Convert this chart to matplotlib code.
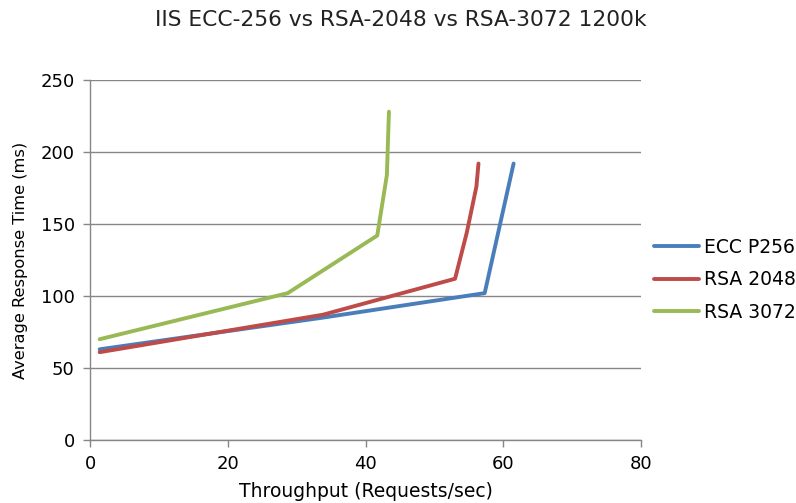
import matplotlib
matplotlib.use("Agg")
import matplotlib.pyplot as plt

# values
ecc_x = [1.4, 33.8, 57.3, 61.5]
ecc_y = [63, 85, 102, 192]

rsa2048_x = [1.4, 33.8, 53.0, 54.7, 56.1, 56.4]
rsa2048_y = [61, 87, 112, 144, 176, 192]

rsa3072_x = [1.4, 28.7, 41.7, 43.1, 43.4]
rsa3072_y = [70, 102, 142, 184, 228]

series_names = ["ECC P256", "RSA 2048", "RSA 3072"]
series_colors = ["#4A7EBB", "#BE4B48", "#98B954"]

x_ticks = [0, 20, 40, 60, 80]
y_ticks = [0, 50, 100, 150, 200, 250]

plt.rcParams["font.family"] = ["DejaVu Sans"]

fig = plt.figure(figsize=(7.96, 5.03), dpi=100)
ax = fig.add_axes([0.1131, 0.1252, 0.6922, 0.7157])

grid_color = "#868686"
for xs, ys, name, col in zip([ecc_x, rsa2048_x, rsa3072_x],
                             [ecc_y, rsa2048_y, rsa3072_y],
                             series_names, series_colors):
    ax.plot(xs, ys, color=col, lw=2.8, label=name, solid_capstyle="round",
            solid_joinstyle="round", zorder=3)

ax.set_xlim(0, 80)
ax.set_ylim(0, 250)
ax.set_xticks(x_ticks)
ax.set_yticks(y_ticks)
ax.yaxis.grid(True, color=grid_color, lw=1)
ax.set_axisbelow(True)

for side in ["top", "right"]:
    ax.spines[side].set_visible(False)
for side in ["left", "bottom"]:
    ax.spines[side].set_color(grid_color)
    ax.spines[side].set_linewidth(1)
ax.tick_params(axis="both", colors=grid_color, length=5, width=1,
               labelcolor="#000000", labelsize=13)
ax.tick_params(axis="x", pad=6)
ax.tick_params(axis="y", pad=6)

ax.set_xlabel("Throughput (Requests/sec)", fontsize=13.5, labelpad=6)
ax.set_ylabel("Average Response Time (ms)", fontsize=11.7, labelpad=9)

fig.text(0.504, 0.96, "IIS ECC-256 vs RSA-2048 vs RSA-3072 1200k",
         ha="center", va="center", fontsize=15.7, color="#222222")

ax.legend(loc="center left", bbox_to_anchor=(1.0, 0.445), frameon=False,
          fontsize=13.5, handlelength=2.4, handletextpad=0.25,
          labelspacing=0.72, borderpad=0.2)

fig.savefig("out.png", dpi=100)
